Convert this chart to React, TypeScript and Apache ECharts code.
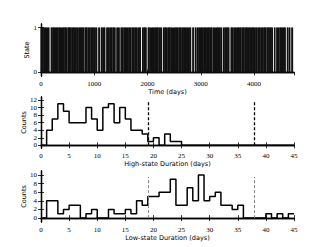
import React, { useEffect, useRef } from "react";
import * as echarts from "echarts";

// alternating durations (days): low, high, low, high, ... starting at t = 0
const stateRuns = [
  3, 10, 15, 9, 18, 11, 18, 6, 17, 12, 19, 10, 45, 9,
  20, 12, 14, 6, 22, 11, 19, 4, 25, 10, 12, 7, 21, 15, 18, 9, 23, 3, 16, 12,
  27, 8, 13, 10, 20, 5, 24, 13, 17, 6, 22, 11, 19, 8, 26, 14, 15, 4, 21, 10,
  18, 12, 28, 7, 11, 9, 23, 13, 20, 5, 25, 11, 16, 8, 22, 14, 19, 10,
  42, 8, 38, 9, 20, 11, 16, 8, 40, 10, 18, 6, 22, 12, 17, 9, 24, 5, 19, 10,
  38, 8, 21, 11, 36, 12, 18, 7, 25, 10, 14, 13, 20, 4, 23, 11, 17, 8, 26, 9,
  15, 12, 21, 6, 19, 10, 24, 14, 16, 7, 44, 9, 22, 5, 18, 10, 42, 11, 20, 8,
  25, 12, 17, 6, 23, 10, 19, 13, 14, 5, 27, 9, 18, 11, 40, 10, 21, 7, 16, 12,
  24, 9, 13, 4, 22, 11, 19, 15, 25, 8, 17, 10, 20, 6, 23, 13, 15, 9, 26, 11,
  18, 5, 21, 12, 16, 8, 24, 10, 19, 7, 45, 5, 40, 9, 28, 11, 20, 8, 23, 12,
  17, 6, 25, 10, 14, 9, 22, 14, 18, 5, 21, 11, 16, 7, 27, 10, 19, 13, 24, 8,
  15, 11, 22, 6, 20, 12, 38, 9, 23, 10, 17, 7, 21, 11, 44, 6, 15, 12, 22, 9,
  18, 13, 25, 5, 16, 10, 20, 8, 23, 14, 19, 6, 26, 11, 14, 9, 21, 12, 17, 7,
  24, 10, 18, 4, 22, 13, 20, 8, 25, 11, 16, 6, 23, 12, 19, 9, 21, 10, 15, 7,
  27, 13, 18, 5, 22, 11, 17, 8, 42, 3, 40, 10, 20, 12, 24, 7, 18, 11, 22, 9,
  16, 6, 44, 5, 30, 9, 40, 10, 29,
];
const timeMax = 4750;
const stateTicks = [0, 1];

const durationBins = [
  0, 1, 2, 3, 4, 5, 6, 7, 8, 9, 10, 11, 12, 13, 14, 15, 16, 17, 18, 19, 20, 21,
  22, 23, 24, 25, 26, 27, 28, 29, 30, 31, 32, 33, 34, 35, 36, 37, 38, 39, 40,
  41, 42, 43, 44, 45,
];
const highCounts = [
  0, 4, 7, 11, 9, 6, 6, 6, 10, 7, 4, 10, 11, 6, 10, 7, 4, 4, 3, 1, 2, 0, 3, 1, 1,
  0, 0, 0, 0, 0, 0, 0, 0, 0, 0, 0, 0, 0, 0, 0, 0, 0, 0, 0, 0,
];
const lowCounts = [
  0, 4, 4, 1, 2, 3, 3, 0, 1, 2, 0, 0, 2, 1, 1, 2, 1, 4, 3, 5, 5, 6, 6, 9, 3, 3,
  7, 4, 10, 4, 5, 6, 3, 3, 2, 3, 0, 0, 0, 0, 1, 0, 1, 0, 1,
];
const highTicks = [0, 2, 4, 6, 8, 10, 12];
const lowTicks = [0, 2, 4, 6, 8, 10];
const thresholds = [19, 38];
const highLineTop = 11.6;
const lowLineTop = 9.5;

const SERIF = "Liberation Serif";
const SANS = "DejaVu Sans";

function transitionsFrom(runs: number[]): number[] {
  const out: number[] = [];
  let t = 0;
  for (let i = 0; i < runs.length - 1; i++) {
    t += runs[i];
    out.push(t);
  }
  return out;
}

function histSteps(bins: number[], counts: number[]) {
  const pts: number[][] = counts.map((c, i) => [bins[i], c]);
  pts.push([bins[counts.length], counts[counts.length - 1]]);
  return pts;
}

export default function App() {
  const ref = useRef<HTMLDivElement>(null);
  useEffect(() => {
    if (!ref.current) return;
    const chart = echarts.init(ref.current, null, { renderer: "svg" });
    const frame = { show: true, lineStyle: { color: "#000", width: 1.3 } };
    const tick = { show: true, inside: true, length: 3, lineStyle: { color: "#000", width: 0.8 } };
    const lab = { color: "#000", fontFamily: SERIF, fontSize: 7, formatter: (v: number) => String(v) };
    const nameStyle = { color: "#000", fontFamily: SANS, fontSize: 6.5, fontWeight: "normal" };

    const xPair = (grid: number, max: number, interval: number, name: string) => [
      {
        type: "value", gridIndex: grid, min: 0, max, interval, position: "bottom",
        axisLine: frame, axisTick: tick, splitLine: { show: false },
        axisLabel: { ...lab, margin: 4, showMaxLabel: max % interval === 0 },
        name, nameLocation: "middle", nameGap: 12, nameTextStyle: nameStyle,
        nameMoveOverlap: false,
      },
      {
        type: "value", gridIndex: grid, min: 0, max, interval, position: "top",
        axisLine: frame, axisTick: tick, splitLine: { show: false },
        axisLabel: { show: false },
      },
    ];
    const yPair = (grid: number, min: number, max: number, ticks: number[], name: string, gap: number) => [
      {
        type: "value", gridIndex: grid, min, max, position: "left",
        axisLine: frame, axisTick: { ...tick, customValues: ticks }, splitLine: { show: false },
        axisLabel: { ...lab, margin: 4, customValues: ticks },
        name, nameLocation: "middle", nameGap: gap, nameRotate: 90, nameTextStyle: nameStyle,
        nameMoveOverlap: false,
      },
      {
        type: "value", gridIndex: grid, min, max, position: "right",
        axisLine: frame, axisTick: { ...tick, customValues: ticks }, splitLine: { show: false },
        axisLabel: { show: false },
      },
    ];

    const transitions = transitionsFrom(stateRuns);
    const dashed = (top: number, color: string, width: number) => ({
      silent: true, symbol: "none", animation: false,
      label: { show: false },
      lineStyle: { color, width, type: [3, 2] },
      data: thresholds.map((x) => [{ coord: [x, 0] }, { coord: [x, top] }]),
    });

    chart.setOption({
      animation: false,
      backgroundColor: "#fff",
      grid: [
        { left: 41, top: 24, width: 253, height: 52 },
        { left: 41, top: 97, width: 253, height: 51 },
        { left: 41, top: 171, width: 253, height: 51 },
      ],
      xAxis: [
        ...xPair(0, timeMax, 1000, "Time (days)"),
        ...xPair(1, 45, 5, "High-state Duration (days)"),
        ...xPair(2, 45, 5, "Low-state Duration (days)"),
      ],
      yAxis: [
        ...yPair(0, -0.08, 1.08, stateTicks, "State", 11),
        ...yPair(1, -0.7, 12.8, highTicks, "Counts", 14),
        ...yPair(2, -0.9, 10.9, lowTicks, "Counts", 14),
      ],
      series: [
        {
          type: "custom", xAxisIndex: 0, yAxisIndex: 0,
          data: transitions.map((t) => [t, 1]),
          encode: { x: 0, y: 1 },
          renderItem: (_p: any, api: any) => {
            const t = api.value(0);
            const a = api.coord([t, 0]);
            const b = api.coord([t, 1]);
            return {
              type: "line",
              shape: { x1: a[0], y1: a[1], x2: b[0], y2: b[1] },
              style: { stroke: "#111", lineWidth: 1.4 },
            };
          },
        },
        {
          type: "line", xAxisIndex: 2, yAxisIndex: 2, step: "end",
          data: histSteps(durationBins, highCounts), showSymbol: false,
          lineStyle: { color: "#000", width: 1.5 }, itemStyle: { color: "#000" },
          markLine: dashed(highLineTop, "#000", 1.3),
        },
        {
          type: "line", xAxisIndex: 4, yAxisIndex: 4, step: "end",
          data: histSteps(durationBins, lowCounts), showSymbol: false,
          lineStyle: { color: "#000", width: 1.5 }, itemStyle: { color: "#000" },
          markLine: dashed(lowLineTop, "#888", 1),
        },
      ],
    });
    return () => chart.dispose();
  }, []);
  return (
    <div
      ref={ref}
      style={{ position: "fixed", left: 0, top: 0, width: 327, height: 247, background: "#fff" }}
    />
  );
}
